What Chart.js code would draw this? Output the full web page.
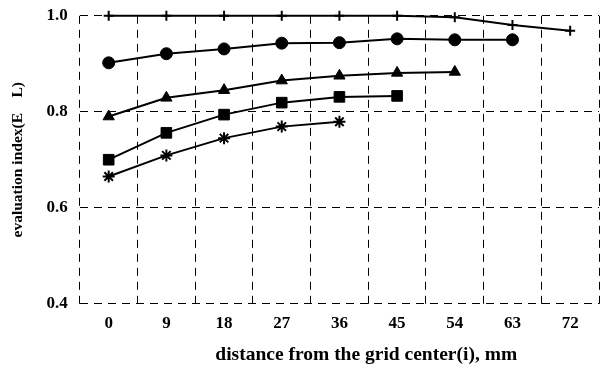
<!DOCTYPE html>
<html>
<head>
<meta charset="utf-8">
<script src="https://cdn.jsdelivr.net/npm/chart.js@4"></script>
<style>
  html, body { margin: 0; padding: 0; background: #fff; }
  #wrap { width: 602px; height: 367px; position: relative; }
</style>
</head>
<body>
<div id="wrap"><canvas id="chart"></canvas></div>
<script>
// distancia desde el centro de la rejilla (mm)
const distances = [0, 9, 18, 27, 36, 45, 54, 63, 72];

// índice de evaluación E_L, una serie por marcador
const seriesPlus     = [1.0, 1.0, 1.0, 1.0, 1.0, 1.0, 0.997, 0.981, 0.969];
const seriesCircle   = [0.902, 0.921, 0.931, 0.943, 0.944, 0.952, 0.950, 0.950];
const seriesTriangle = [0.790, 0.829, 0.845, 0.865, 0.875, 0.881, 0.883];
const seriesSquare   = [0.700, 0.756, 0.794, 0.819, 0.831, 0.833];
const seriesStar     = [0.665, 0.709, 0.745, 0.769, 0.779];

const yTicks = [0.4, 0.6, 0.8, 1.0];

const SERIF = '"Liberation Serif", "DejaVu Serif", serif';
Chart.defaults.font.family = SERIF;
Chart.defaults.color = '#000';

const toPoints = vals => vals.map((v, i) => ({ x: distances[i], y: v }));

function serie(vals, style, radius) {
  return {
    data: toPoints(vals),
    borderColor: '#000',
    backgroundColor: '#000',
    borderWidth: 2,
    pointStyle: style,
    pointRadius: radius,
    pointBorderWidth: style === 'cross' || style === 'star' ? 2 : 1,
    tension: 0,
    clip: false,
  };
}

new Chart(document.getElementById('chart'), {
  type: 'line',
  data: {
    datasets: [
      serie(seriesPlus, 'cross', 5),
      serie(seriesCircle, 'circle', 6),
      serie(seriesTriangle, 'triangle', 6.5),
      serie(seriesSquare, 'rect', 7.5),
      serie(seriesStar, 'star', 6),
    ],
  },
  options: {
    responsive: true,
    maintainAspectRatio: false,
    animation: false,
    layout: { autoPadding: false, padding: { left: 9, right: 3, top: 4, bottom: 0 } },
    plugins: { legend: { display: false }, tooltip: { enabled: false } },
    scales: {
      x: {
        type: 'linear',
        min: -4.5,
        max: 76.5,
        border: { display: false, dash: [8, 6] },
        grid: {
          drawTicks: false,
          lineWidth: 1,
          // rejilla sólo entre las marcas (4.5, 13.5, ...) y en los bordes
          color: c => (c.tick && c.tick.value % 9 === 0) ? 'rgba(0,0,0,0)' : '#000',
        },
        ticks: {
          stepSize: 4.5,
          autoSkip: false,
          maxRotation: 0,
          padding: 3,
          font: { size: 17, weight: 'bold', lineHeight: 2 },
          callback: v => (v % 9 === 0 ? String(v) : ''),
        },
        title: {
          display: true,
          text: ' '.repeat(11) + 'distance from the grid center(i), mm',
          font: { size: 19.5, weight: 'bold' },
          padding: { top: 0, bottom: 0 },
        },
      },
      y: {
        min: 0.4,
        max: 1.0,
        border: { display: false, dash: [8, 6] },
        grid: { drawTicks: false, lineWidth: 1, color: '#000' },
        afterBuildTicks: axis => { axis.ticks = yTicks.map(v => ({ value: v })); },
        ticks: {
          padding: 12,
          font: { size: 17, weight: 'bold', lineHeight: 0.45 },
          callback: v => Number(v).toFixed(1),
        },
        title: {
          display: true,
          text: 'evaluation index(E    L)',
          font: { size: 15.5, weight: 'bold' },
          padding: { top: 0, bottom: 7 },
        },
      },
    },
  },
});
</script>
</body>
</html>
